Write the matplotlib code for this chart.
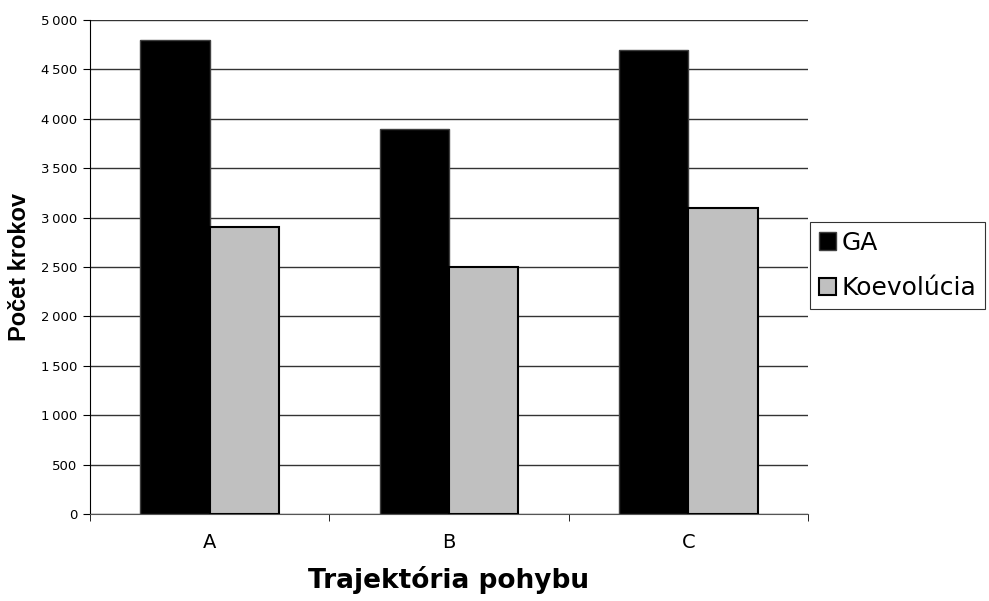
import matplotlib.pyplot as plt
import matplotlib.ticker as mticker
import numpy as np

plt.rcParams['font.family'] = ['DejaVu Sans']

categories = ['A', 'B', 'C']
ga = [4800, 3900, 4700]
koev = [2900, 2500, 3100]
series_names = ['GA', 'Koevolúcia']

fig = plt.figure(figsize=(9.89, 6.01), dpi=100)
ax = fig.add_axes([90/989, 1-514/601, (808-90)/989, (514-20)/601])

x = np.arange(len(categories))
w = 0.29
ax.bar(x - w/2, ga, w, color='black', edgecolor='#404040', linewidth=1, label=series_names[0], zorder=3)
ax.bar(x + w/2, koev, w, color='#c0c0c0', edgecolor='black', linewidth=1.5, label=series_names[1], zorder=3)

ax.set_xlim(-0.5, 2.5)
ax.set_ylim(0, 5000)
ax.set_yticks(np.arange(0, 5001, 500))
ax.yaxis.set_major_formatter(mticker.FuncFormatter(
    lambda v, p: f'{int(v):,}'.replace(',', '\u2009')))
ax.grid(axis='y', color='#333333', linewidth=1, zorder=0)

ax.set_xticks(x)
ax.set_xticklabels(categories, fontsize=14)
ax.tick_params(axis='x', length=0, pad=14)
ax.set_xticks([-0.5, 0.5, 1.5, 2.5], minor=True)
ax.tick_params(axis='x', which='minor', length=5, color='black')
ax.tick_params(axis='y', labelsize=9.5, length=5, pad=4)

for s in ['top', 'right']:
    ax.spines[s].set_visible(False)
ax.spines['bottom'].set_color('#555555')
ax.spines['left'].set_color('black')

fig.text(20/989, 1-267/601, 'Počet krokov', rotation=90, ha='center', va='center',
         fontsize=17, fontweight='bold', family=['Liberation Sans', 'DejaVu Sans'])
fig.text(449/989, 1-580/601, 'Trajektória pohybu', ha='center', va='center',
         fontsize=19, fontweight='bold')

leg = fig.legend(loc='upper left', bbox_to_anchor=(810/989, 1-222/601),
                 fontsize=18, frameon=True, fancybox=False, edgecolor='black',
                 handlelength=0.7, handleheight=0.7, handletextpad=0.2,
                 borderpad=0.35, labelspacing=0.85, borderaxespad=0)
leg.get_frame().set_linewidth(0.8)

fig.savefig('out.png', dpi=100)
